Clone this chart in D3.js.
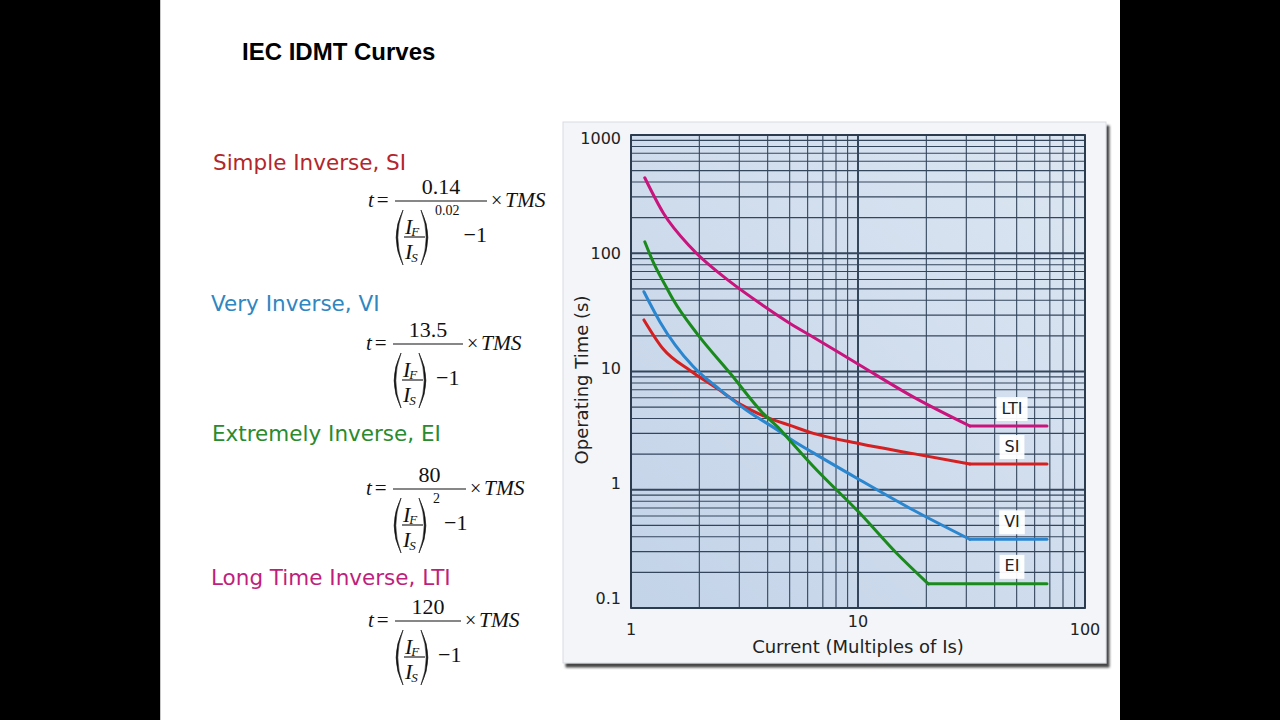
<!DOCTYPE html>
<html><head><meta charset="utf-8">
<script src="https://cdn.jsdelivr.net/npm/d3@7"></script>
<style>html,body{margin:0;padding:0;background:#000;overflow:hidden}svg{display:block}</style>
</head><body>
<svg id="c" width="1280" height="720"></svg>
<script>
// ---------- data ----------
const seriesKeys   = ["LTI", "SI", "VI", "EI"];
const seriesColors = ["#c8147c", "#d42020", "#2a86cf", "#1b8a1d"];

const ltiCurrent = [1.15, 1.39, 1.85, 2.73, 3.83, 5.02, 6.36, 10.2, 17.5, 31.1, 68];
const ltiTime    = [435, 218, 110, 57.5, 36, 25.5, 19.5, 11.3, 6.1, 3.46, 3.46];

const siCurrent  = [1.14, 1.39, 1.82, 2.39, 3.02, 4.1, 5.02, 6.36, 10.2, 17.5, 31.1, 68];
const siTime     = [27.3, 15.4, 10.2, 7.2, 5.3, 4.0, 3.5, 3.0, 2.45, 2.02, 1.65, 1.65];

const viCurrent  = [1.14, 1.19, 1.34, 1.88, 2.47, 3.23, 4.53, 5.02, 6.36, 10.2, 17.5, 31.1, 68];
const viTime     = [47.3, 40.2, 26.4, 11, 7, 4.7, 3.1, 2.7, 2.05, 1.21, 0.674, 0.381, 0.381];

const eiCurrent  = [1.15, 1.25, 1.44, 1.54, 1.95, 2.73, 3.83, 4.53, 5.02, 6.36, 10.2, 14.8, 20.4, 68];
const eiTime     = [125, 85, 50.5, 40, 21, 9.7, 4.4, 3.25, 2.6, 1.57, 0.632, 0.29, 0.16, 0.16];

const xTickValues = [1, 10, 100];
const yTickValues = [0.1, 1, 10, 100, 1000];
const xTickLabels = ["1", "10", "100"];
const yTickLabels = ["0.1", "1", "10", "100", "1000"];

const pageTitle = "IEC IDMT Curves";
const curveNames = ["Simple Inverse, SI", "Very Inverse, VI", "Extremely Inverse, EI", "Long Time Inverse, LTI"];
const curveNameColors = ["#b3262b", "#2f86c0", "#2a8a2e", "#bf1f7c"];
const formulaNumerators = ["0.14", "13.5", "80", "120"];
const formulaExponents  = ["0.02", "", "2", ""];

const xTitle = "Current (Multiples of Is)";
const yTitle = "Operating Time (s)";

// ---------- drawing ----------
const svg = d3.select("#c");
const defs = svg.append("defs");

svg.append("rect").attr("x", 0).attr("y", 0).attr("width", 1280).attr("height", 720).attr("fill", "#000");
svg.append("rect").attr("x", 160).attr("y", 0).attr("width", 960).attr("height", 720).attr("fill", "#fff");
svg.append("line").attr("x1", 160.5).attr("x2", 160.5).attr("y1", 0).attr("y2", 720).attr("stroke", "#c8c8c8");

svg.append("text").attr("x", 242).attr("y", 60).text(pageTitle)
  .attr("font-family", "Liberation Sans, Arial, sans-serif").attr("font-weight", "bold")
  .attr("font-size", 24).attr("fill", "#000");

const headBase = [170, 311, 441, 585];
const headX = [213, 211, 212, 211];
const fracY = [201, 344, 489, 621];
const fracOx = [368, 366, 366, 368];
const fracLen = [92, 70, 73, 66];
const serif = "Liberation Serif, Times New Roman, serif";

curveNames.forEach((n, i) => {
  svg.append("text").attr("x", headX[i]).attr("y", headBase[i]).text(n)
    .attr("font-family", "DejaVu Sans, Verdana, sans-serif").attr("font-size", 21.5)
    .attr("fill", curveNameColors[i]);
  drawFormula(fracOx[i], fracY[i], formulaNumerators[i], formulaExponents[i], fracLen[i]);
});

function paren(g, xTop, yTop, yBot, bulge) {
  const ym = (yTop + yBot) / 2;
  g.append("path")
    .attr("d", `M${xTop},${yTop} Q${xTop + bulge * 1.25},${ym} ${xTop},${yBot} Q${xTop + bulge * 0.95},${ym} ${xTop},${yTop} Z`)
    .attr("fill", "#111").attr("stroke", "#111").attr("stroke-width", 0.6);
}

function drawFormula(ox, cy, num, exp, len) {
  const g = svg.append("g").attr("font-family", serif).attr("fill", "#111");
  const t = g.append("text").attr("x", ox).attr("y", cy + 6).attr("font-size", 21);
  t.append("tspan").attr("font-style", "italic").text("t");
  t.append("tspan").attr("dx", 3).text("=");
  const lx0 = ox + 27, lx1 = lx0 + len;
  g.append("line").attr("x1", lx0).attr("x2", lx1).attr("y1", cy).attr("y2", cy)
    .attr("stroke", "#111").attr("stroke-width", 1.2);
  g.append("text").attr("x", (lx0 + lx1) / 2).attr("y", cy - 7).attr("text-anchor", "middle")
    .attr("font-size", 22).text(num);
  g.append("text").attr("x", lx1 + 4).attr("y", cy + 6).attr("font-size", 20).text("×");
  g.append("text").attr("x", lx1 + 18).attr("y", cy + 6).attr("font-size", 21.5).attr("font-style", "italic").text("TMS");
  paren(g, ox + 35, cy + 9, cy + 64, -11);
  paren(g, ox + 53, cy + 9, cy + 64, 11);
  const f1 = g.append("text").attr("x", ox + 37).attr("y", cy + 33).attr("font-size", 22).attr("font-style", "italic");
  f1.append("tspan").text("I");
  f1.append("tspan").attr("font-size", 13).attr("dy", 2).attr("dx", -1).text("F");
  g.append("line").attr("x1", ox + 36).attr("x2", ox + 57).attr("y1", cy + 36).attr("y2", cy + 36)
    .attr("stroke", "#111").attr("stroke-width", 1.1);
  const f2 = g.append("text").attr("x", ox + 37).attr("y", cy + 58).attr("font-size", 22).attr("font-style", "italic");
  f2.append("tspan").text("I");
  f2.append("tspan").attr("font-size", 13).attr("dy", 3).attr("dx", -1).text("S");
  let mx = ox + 70;
  if (exp) {
    const e = g.append("text").attr("x", ox + 67).attr("y", cy + 14).attr("font-size", 14).text(exp);
    mx = ox + 67 + e.node().getComputedTextLength() + 4;
  }
  g.append("text").attr("x", mx).attr("y", cy + 41).attr("font-size", 22).text("−1");
}

// ---------- chart panel ----------
const shadow = defs.append("filter").attr("id", "sh").attr("x", "-5%").attr("y", "-5%").attr("width", "115%").attr("height", "115%");
shadow.append("feDropShadow").attr("dx", 3).attr("dy", 4).attr("stdDeviation", 1.2).attr("flood-color", "#333").attr("flood-opacity", 0.9);
svg.append("rect").attr("x", 563).attr("y", 122).attr("width", 543).attr("height", 541)
  .attr("fill", "#f3f5f8").attr("stroke", "#d8dce2").attr("filter", "url(#sh)");

const plot = { l: 631, r: 1085, t: 135, b: 608 };
const x = d3.scaleLog().domain([1, 100]).range([plot.l, plot.r]);
const y = d3.scaleLog().domain([0.1, 1000]).range([plot.b, plot.t]);
const yLabel = d3.scaleLog().domain([0.1, 1000]).range([plot.b - 9, plot.t + 4]);

const grad = defs.append("linearGradient").attr("id", "bg").attr("x1", "0").attr("y1", "1").attr("x2", "1").attr("y2", "0");
grad.append("stop").attr("offset", "0").attr("stop-color", "#c3d3e8");
grad.append("stop").attr("offset", "1").attr("stop-color", "#dce6f2");
svg.append("rect").attr("x", plot.l).attr("y", plot.t).attr("width", plot.r - plot.l).attr("height", plot.b - plot.t)
  .attr("fill", "url(#bg)");

const isMajor = v => Math.abs(Math.log10(v) - Math.round(Math.log10(v))) < 1e-9;
const grid = svg.append("g").attr("stroke", "#34465c");
const xGrid = x.ticks();
const yGrid = y.ticks();
grid.selectAll("line.v").data(xGrid).join("line").attr("class", "v")
  .attr("x1", d => x(d)).attr("x2", d => x(d)).attr("y1", plot.t).attr("y2", plot.b)
  .attr("stroke-width", d => isMajor(d) ? 2 : 1.1);
grid.selectAll("line.h").data(yGrid).join("line").attr("class", "h")
  .attr("y1", d => y(d)).attr("y2", d => y(d)).attr("x1", plot.l).attr("x2", plot.r)
  .attr("stroke-width", d => isMajor(d) ? 2 : 1.1);
svg.append("rect").attr("x", plot.l).attr("y", plot.t).attr("width", plot.r - plot.l).attr("height", plot.b - plot.t)
  .attr("fill", "none").attr("stroke", "#2c3b4e").attr("stroke-width", 1.8);

const tickFont = "DejaVu Sans, Verdana, sans-serif";
svg.append("g").selectAll("text").data(yTickValues).join("text")
  .attr("x", plot.l - 10).attr("y", d => yLabel(d)).attr("text-anchor", "end").attr("dominant-baseline", "middle")
  .attr("font-family", tickFont).attr("font-size", 16).attr("fill", "#222")
  .text((d, i) => yTickLabels[i]);
svg.append("g").selectAll("text").data(xTickValues).join("text")
  .attr("x", d => x(d)).attr("y", (d, i) => i === 1 ? plot.b + 19 : plot.b + 27).attr("text-anchor", "middle")
  .attr("font-family", tickFont).attr("font-size", 16).attr("fill", "#222")
  .text((d, i) => xTickLabels[i]);

svg.append("text").attr("x", (plot.l + plot.r) / 2).attr("y", 653).attr("text-anchor", "middle")
  .attr("font-family", tickFont).attr("font-size", 18).attr("fill", "#222").text(xTitle);
svg.append("text").attr("transform", `translate(588,380) rotate(-90)`).attr("text-anchor", "middle")
  .attr("font-family", tickFont).attr("font-size", 18).attr("fill", "#222").text(yTitle);

// curves
const seriesCurrent = [ltiCurrent, siCurrent, viCurrent, eiCurrent];
const seriesTime = [ltiTime, siTime, viTime, eiTime];
const curveLine = d3.line().x(d => x(d[0])).y(d => y(d[1])).curve(d3.curveMonotoneX);
const flatLine = d3.line().x(d => x(d[0])).y(d => y(d[1]));
const curves = svg.append("g").attr("fill", "none").attr("stroke-width", 3).attr("stroke-linecap", "round").attr("stroke-linejoin", "round");
seriesKeys.forEach((k, i) => {
  const pts = seriesCurrent[i].map((c, j) => [c, seriesTime[i][j]]);
  const n = pts.length;
  curves.append("path").attr("d", curveLine(pts.slice(0, n - 1))).attr("stroke", seriesColors[i]);
  curves.append("path").attr("d", flatLine(pts.slice(n - 2))).attr("stroke", seriesColors[i]);
});

// series labels
const maxCurrent = d3.max(seriesCurrent.flat());
const labels = svg.append("g");
seriesKeys.forEach((k, i) => {
  const ts = seriesTime[i];
  const lx = x(maxCurrent) - 35;
  const ly = y(ts[ts.length - 1]) - 17;
  const t = labels.append("text").attr("x", lx).attr("y", ly).attr("text-anchor", "middle").attr("dominant-baseline", "middle")
    .attr("font-family", tickFont).attr("font-size", 16).attr("fill", "#222").text(k);
  const w = t.node().getComputedTextLength();
  labels.insert("rect", "text").attr("x", lx - w / 2 - 5).attr("y", ly - 12).attr("width", w + 10).attr("height", 24)
    .attr("fill", "#fff").attr("opacity", 0.95);
});
</script>
</body></html>
